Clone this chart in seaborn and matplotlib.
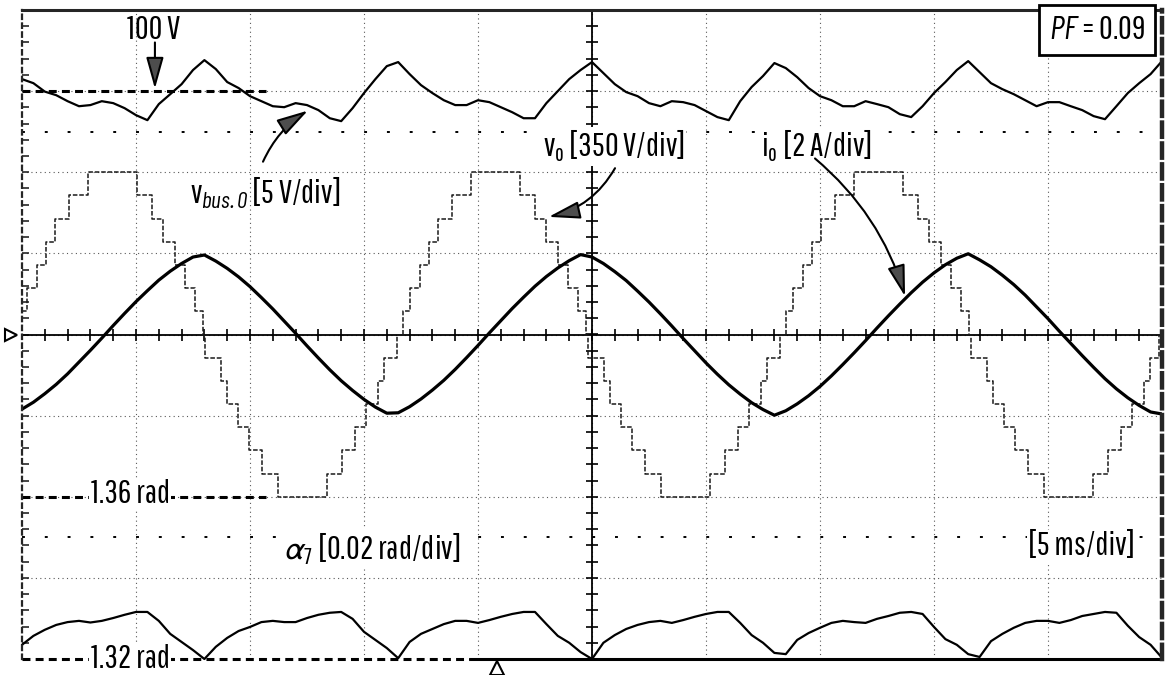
import matplotlib
matplotlib.use("Agg")
import matplotlib.pyplot as plt
from matplotlib.ticker import MultipleLocator
import numpy as np
import seaborn as sns

# scope time base: 5 ms/div, 10 div; sampled traces every 0.5 ms
t_ms = np.linspace(0, 50, 101)

# output current i_o [A]  (2 A/div)
io_amp = [
    -1.84, -1.67, -1.46, -1.23, -0.97, -0.68, -0.39, -0.09, 0.22, 0.52,
    0.81, 1.08, 1.34, 1.56, 1.75, 1.91, 1.96, 1.81, 1.63, 1.42,
    1.18, 0.91, 0.63, 0.33, 0.03, -0.28, -0.58, -0.87, -1.14, -1.38,
    -1.60, -1.79, -1.94, -1.93, -1.78, -1.59, -1.37, -1.13, -0.86, -0.57,
    -0.27, 0.04, 0.34, 0.64, 0.92, 1.19, 1.43, 1.64, 1.82, 1.97,
    1.91, 1.75, 1.55, 1.33, 1.07, 0.80, 0.51, 0.21, -0.10, -0.40,
    -0.70, -0.98, -1.24, -1.47, -1.68, -1.85, -1.99, -1.88, -1.71, -1.51,
    -1.28, -1.02, -0.74, -0.45, -0.15, 0.16, 0.46, 0.75, 1.03, 1.29,
    1.52, 1.72, 1.88, 1.99, 1.84, 1.67, 1.46, 1.23, 0.97, 0.68,
    0.39, 0.08, -0.22, -0.52, -0.81, -1.09, -1.34, -1.56, -1.75, -1.91,
    -1.96,
]

# dc bus voltage v_bus.0 [V]  (5 V/div, 100 V reference)
vbus_volt = [
    100.74, 100.49, 99.97, 99.75, 99.38, 99.07, 99.14, 99.38, 99.26, 98.95,
    98.52, 98.21, 99.20, 99.81, 100.43, 101.30, 101.91, 101.36, 100.56, 100.19,
    99.69, 99.38, 99.07, 99.01, 99.26, 99.14, 98.83, 98.33, 98.15, 98.95,
    99.88, 100.74, 101.54, 101.79, 101.05, 100.37, 99.88, 99.44, 99.14, 99.14,
    99.44, 99.32, 99.01, 98.70, 98.33, 98.33, 99.26, 100.00, 100.74, 101.30,
    101.79, 101.11, 100.43, 99.94, 99.69, 99.26, 99.07, 99.38, 99.32, 99.14,
    98.77, 98.40, 98.21, 99.38, 100.25, 100.93, 101.73, 101.42, 100.86, 100.19,
    99.69, 99.44, 99.07, 99.07, 99.38, 99.20, 99.01, 98.58, 98.40, 99.07,
    99.88, 100.56, 101.30, 101.85, 101.17, 100.49, 100.12, 99.81, 99.44, 99.07,
    99.32, 99.32, 99.07, 98.83, 98.46, 98.27, 99.07, 99.88, 100.49, 101.05,
    101.85,
]

# switching angle alpha_7 [rad]  (0.02 rad/div, 1.32 rad reference)
alpha7_rad = [
    1.3235, 1.3257, 1.3272, 1.3284, 1.3291, 1.3294, 1.3290, 1.3294, 1.3301, 1.3309,
    1.3316, 1.3316, 1.3294, 1.3262, 1.3242, 1.3222, 1.3200, 1.3230, 1.3252, 1.3269,
    1.3279, 1.3291, 1.3294, 1.3291, 1.3291, 1.3301, 1.3309, 1.3314, 1.3316, 1.3299,
    1.3267, 1.3247, 1.3227, 1.3202, 1.3242, 1.3262, 1.3274, 1.3286, 1.3294, 1.3294,
    1.3289, 1.3296, 1.3304, 1.3311, 1.3316, 1.3316, 1.3286, 1.3257, 1.3240, 1.3217,
    1.3200, 1.3240, 1.3259, 1.3274, 1.3284, 1.3291, 1.3294, 1.3289, 1.3296, 1.3304,
    1.3311, 1.3316, 1.3316, 1.3289, 1.3259, 1.3240, 1.3215, 1.3212, 1.3247, 1.3264,
    1.3277, 1.3289, 1.3294, 1.3291, 1.3289, 1.3299, 1.3306, 1.3314, 1.3316, 1.3311,
    1.3279, 1.3249, 1.3235, 1.3212, 1.3205, 1.3244, 1.3262, 1.3277, 1.3289, 1.3294,
    1.3294, 1.3289, 1.3296, 1.3306, 1.3311, 1.3316, 1.3314, 1.3282, 1.3254, 1.3235,
    1.3203,
]

# staircase output voltage v_o: switching instants [ms] and level after each [V]
vo_t_ms = [
    0.00, 0.22, 0.66, 1.05, 1.45, 2.06, 2.89, 5.04, 5.70, 6.18, 6.71, 7.15, 7.59,
    7.94, 8.03, 8.73, 8.99, 9.47, 9.96, 10.53, 11.23, 13.38, 14.04, 14.61, 15.09,
    15.61, 15.88, 16.45, 16.71,
    17.02, 17.46, 17.85, 18.25, 18.86, 19.69, 21.84, 22.50, 22.98, 23.51, 23.95,
    24.39, 24.74, 24.83, 25.53, 25.79, 26.27, 26.76, 27.33, 28.03, 30.18, 30.84,
    31.41, 31.89, 32.41, 32.68, 33.25, 33.51,
    33.82, 34.26, 34.65, 35.05, 35.66, 36.49, 38.64, 39.30, 39.78, 40.31, 40.75,
    41.19, 41.54, 41.63, 42.33, 42.59, 43.07, 43.56, 44.13, 44.83, 46.98, 47.64,
    48.21, 48.69, 49.21, 49.48, 49.85, 50.00,
]
vo_volt = [
    100, 200, 300, 400, 500, 600, 700, 600, 500, 400, 300, 200, 100,
    0, -100, -200, -300, -400, -500, -600, -700, -600, -500, -400, -300,
    -200, -100, 0, 100,
    200, 300, 400, 500, 600, 700, 600, 500, 400, 300, 200,
    100, 0, -100, -200, -300, -400, -500, -600, -700, -600, -500,
    -400, -300, -200, -100, 0, 100,
    200, 300, 400, 500, 600, 700, 600, 500, 400, 300, 200,
    100, 0, -100, -200, -300, -400, -500, -600, -700, -600, -500,
    -400, -300, -200, -100, 0, 0,
]

sns.set_style("white")
FONT = ["Pathway Gothic One", "DejaVu Sans"]
plt.rcParams["font.family"] = FONT
plt.rcParams["text.color"] = "black"
plt.rcParams["mathtext.fontset"] = "custom"
plt.rcParams["mathtext.rm"] = "Pathway Gothic One"
plt.rcParams["mathtext.it"] = "Pathway Gothic One"
plt.rcParams["mathtext.sf"] = "Barlow Condensed:italic"
plt.rcParams["mathtext.fallback"] = "stixsans"

fig = plt.figure(figsize=(11.68, 6.75), dpi=100)
ax = fig.add_axes([22 / 1168, 16 / 675, 1140 / 1168, 649 / 675])
ax.set_xlim(0, 50)
ax.set_ylim(-4, 4)

# graticule
ax.xaxis.set_major_locator(MultipleLocator(5))
ax.yaxis.set_major_locator(MultipleLocator(1))
ax.yaxis.set_minor_locator(MultipleLocator(0.2))
ax.grid(True, color="0.35", lw=0.8, linestyle=(0, (1, 3)))
ax.tick_params(axis="x", which="both", length=0, labelbottom=False)
ax.tick_params(axis="y", which="both", direction="in", length=5, width=1.2,
               left=True, right=False, labelleft=False)
ax.spines["top"].set_linewidth(2.2)
ax.spines["left"].set_linewidth(1.6)
ax.spines["left"].set_linestyle((0, (2, 2)))
ax.spines["right"].set_linewidth(3.2)
ax.spines["right"].set_linestyle((0, (3.2, 1.5)))
ax.spines["bottom"].set_visible(False)

# centre cross with sub-division ticks
ax.axhline(0, color="black", lw=1.3)
ax.axvline(25, color="black", lw=1.3)
ax.plot(np.arange(1, 50), np.zeros(49), ls="none", marker="|", ms=9,
        mew=1.2, color="black")
ax.plot(np.full(39, 25.0), np.arange(-3.8, 3.81, 0.2), ls="none", marker="_",
        ms=9, mew=1.2, color="black")
for yy in (2.5, -2.5):
    ax.axhline(yy, color="black", lw=1.4, linestyle=(0, (1.5, 10.23)))

# reference levels
ax.plot([0, 10.7], [3, 3], color="black", lw=2.2, ls=(0, (2.6, 1.7)))
ax.plot([0, 10.7], [-2, -2], color="black", lw=2.2, ls=(0, (2.6, 1.7)))
ax.plot([0, 19.65], [-4, -4], color="black", lw=2.2, ls=(0, (2.6, 1.7)),
        clip_on=False)
ax.plot([19.65, 50], [-4, -4], color="black", lw=2.2, clip_on=False)

# traces
sns.lineplot(x=vo_t_ms, y=np.array(vo_volt) / 350.0, ax=ax, color="0.1",
             lw=1.1, linestyle=(0, (3, 1.2)), drawstyle="steps-post",
             estimator=None, sort=False)
sns.lineplot(x=t_ms, y=np.array(io_amp) / 2.0, ax=ax, color="black", lw=2.3,
             estimator=None, sort=False)
sns.lineplot(x=t_ms, y=(np.array(vbus_volt) - 100.0) / 5.0 + 3, ax=ax,
             color="black", lw=1.6, estimator=None, sort=False)
sns.lineplot(x=t_ms, y=(np.array(alpha7_rad) - 1.32) / 0.02 - 4, ax=ax,
             color="black", lw=1.6, estimator=None, sort=False, clip_on=False)
ax.set_xlabel("")
ax.set_ylabel("")

# scope markers
ax.plot([-0.5], [0], marker=">", ms=9, mfc="white", mec="black", mew=1.5,
        clip_on=False)
ax.plot([20.83], [-4.11], marker="^", ms=10, mfc="white", mec="black",
        mew=1.5, clip_on=False)

# labels
fs = 24
white = dict(facecolor="white", edgecolor="none", pad=1)
ax.text(5.79, 3.75, "100 V", fontsize=fs, ha="center", va="center")
ax.text(4.74, -1.97, "1.36 rad", fontsize=fs, ha="center", va="center",
        bbox=white)
ax.text(4.74, -4.0, "1.32 rad", fontsize=fs, ha="center", va="center",
        bbox=white, clip_on=False)
ax.text(10.66, 1.75, r"$v_{\mathsf{bus.0}}$ [5 V/div]", fontsize=fs,
        ha="center", va="center")
ax.text(25.96, 2.32, r"$v_o$ [350 V/div]", fontsize=fs, ha="center",
        va="center", bbox=white)
ax.text(34.82, 2.32, r"$i_o$ [2 A/div]", fontsize=fs, ha="center",
        va="center", bbox=white)
ax.text(15.35, -2.64, r"$\alpha_7$ [0.02 rad/div]", fontsize=fs, ha="center",
        va="center", bbox=white)
ax.text(46.5, -2.61, "[5 ms/div]", fontsize=fs, ha="center", va="center",
        bbox=white)
ax.text(47.15, 3.75, r"$\mathsf{PF}$ = 0.09", fontsize=fs, ha="center",
        va="center",
        bbox=dict(boxstyle="square,pad=0.3", facecolor="white",
                  edgecolor="black", lw=2))

# pointer arrows
head = "-|>,head_length=0.97,head_width=0.27"
arrow = dict(arrowstyle=head, mutation_scale=20, fc="0.3", ec="black", lw=1.5,
             shrinkA=0, shrinkB=0)
ax.annotate("", xy=(5.83, 3.03), xytext=(5.83, 3.6), arrowprops=arrow)
ax.annotate("", xy=(12.54, 2.76), xytext=(10.57, 2.13),
            arrowprops=dict(arrow, connectionstyle="arc3,rad=-0.15"))
ax.annotate("", xy=(23.1, 1.45), xytext=(26.01, 2.05),
            arrowprops=dict(arrow, connectionstyle="arc3,rad=-0.22"))
ax.annotate("", xy=(38.73, 0.47), xytext=(34.78, 2.17),
            arrowprops=dict(arrow, connectionstyle="arc3,rad=-0.15"))

fig.savefig("out.png", dpi=100)
